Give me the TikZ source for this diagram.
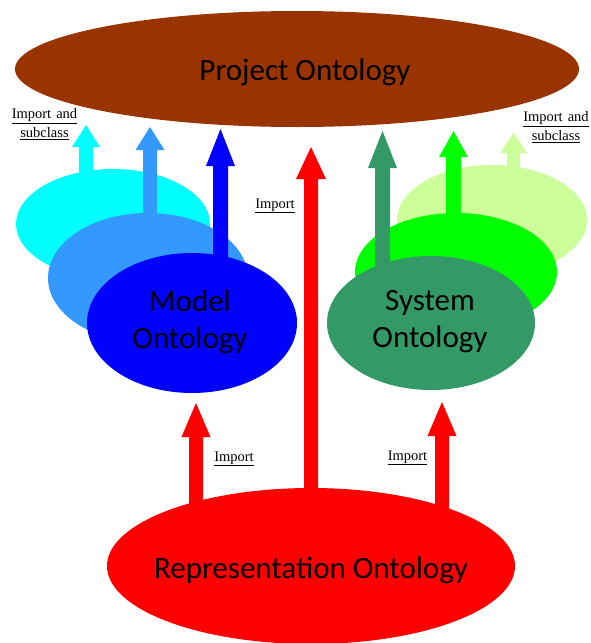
\documentclass[tikz,border=0pt]{standalone}
\usepackage{fontspec}
\setmainfont{Liberation Serif}
\newfontfamily\calib{Carlito}
\usetikzlibrary{shapes.geometric}
\definecolor{cbrown}{HTML}{993300}
\definecolor{cred}{HTML}{FF0000}
\definecolor{ccyan}{HTML}{00FFFF}
\definecolor{clblue}{HTML}{3399FF}
\definecolor{cblue}{HTML}{0000FF}
\definecolor{cdgreen}{HTML}{339966}
\definecolor{cgreen}{HTML}{00FF00}
\definecolor{clgreen}{HTML}{CCFF99}
% block arrow: 1 colour, 2 x, 3 bottom, 4 head base, 5 tip, 6 half shaft, 7 half head
\newcommand\blockarr[7]{%
  \fill[#1] ({#2-#6},#3) -- ({#2-#6},#4) -- ({#2-#7},#4) -- (#2,#5)
    -- ({#2+#7},#4) -- ({#2+#6},#4) -- ({#2+#6},#3) -- cycle;}
\tikzset{
  ell/.style={ellipse, draw=none, inner sep=0pt, outer sep=0pt},
  big/.style={font=\calib\fontsize{31}{37}\selectfont, align=center, inner sep=0pt, text=black},
  lbl/.style={font=\fontsize{14.5}{19.5}\selectfont, align=center, inner sep=0pt, text=black}
}
\begin{document}
\begin{tikzpicture}[x=1pt,y=-1pt]
\useasboundingbox (0,0) rectangle (590,643);
\clip (0,0) rectangle (590,643);
\fill[white] (0,0) rectangle (590,643);

% Project ontology
\node[ell, fill=cbrown, minimum width=564, minimum height=116] (proj) at (297,69) {};
\node[big, anchor=base] (ptxt) at (305,80) {Project Ontology};

% left group
\node[ell, fill=ccyan, minimum width=194, minimum height=110] (cyanE) at (113,224) {};
\blockarr{ccyan}{86}{185}{147}{125}{7}{14}
\node[ell, fill=clblue, minimum width=200, minimum height=130] (lblueE) at (148,278) {};
\blockarr{clblue}{150}{225}{150}{127}{7}{14.5}
\node[ell, fill=cblue, minimum width=210, minimum height=140] (model) at (192,323) {};
\blockarr{cblue}{220.5}{270}{166}{129}{7.5}{14.5}
\node[big] (mtxt) at (190,322) {Model\\Ontology};

% right group
\node[ell, fill=clgreen, minimum width=190, minimum height=110] (lgreenE) at (492,220) {};
\blockarr{clgreen}{513.5}{180}{153}{133}{6.5}{13.5}
\node[ell, fill=cgreen, minimum width=202, minimum height=118] (greenE) at (456,272) {};
\blockarr{cgreen}{453.5}{225}{157}{131}{7.5}{14.5}
\node[ell, fill=cdgreen, minimum width=208, minimum height=134] (system) at (431,323) {};
\blockarr{cdgreen}{382.5}{270}{168}{131}{7.5}{14.5}
\node[big] (stxt) at (430,322) {System\\Ontology};

% representation ontology
\node[ell, fill=cred, minimum width=408, minimum height=156] (rep) at (311,566) {};
\blockarr{cred}{311}{515}{179}{147}{7}{15}
\blockarr{cred}{196}{515}{437}{403}{7}{14.5}
\blockarr{cred}{442}{515}{436}{402}{7}{14.5}
\node[big, anchor=base] (rtxt) at (311,578) {Representation Ontology};

% labels
\node[lbl, anchor=north] (lab1) at (44.5,108) {\underline{Import\hspace{5pt}and}\\\underline{subclass}};
\node[lbl, anchor=north] (lab2) at (556,111) {\underline{Import\hspace{5pt}and}\\\underline{subclass}};
\node[lbl, anchor=base] (lab3) at (275,208) {\underline{Import}};
\node[lbl, anchor=base] (lab4) at (234,461) {\underline{Import}};
\node[lbl, anchor=base] (lab5) at (407.5,460) {\underline{Import}};
\end{tikzpicture}
\end{document}
